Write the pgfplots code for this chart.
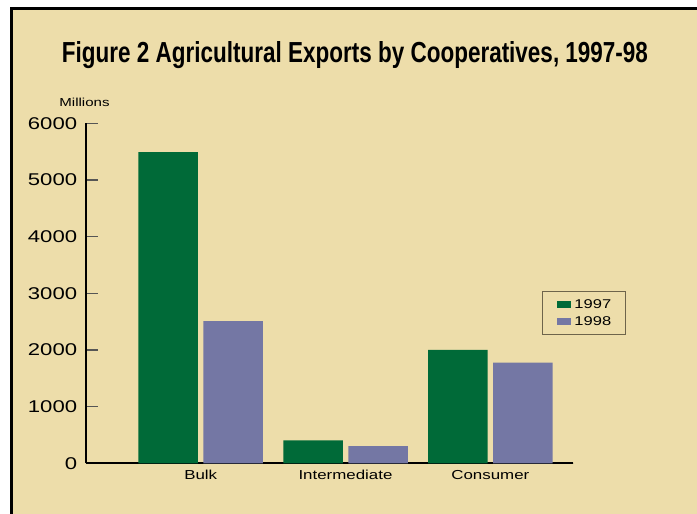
\documentclass[border=0pt]{standalone}
\usepackage{fontspec}
\setmainfont{Liberation Sans}
\newfontfamily\widefont[FakeStretch=1.3]{Liberation Sans}
\usepackage{graphicx}
\usepackage{pgfplots}
\pgfplotsset{compat=1.18}

\definecolor{paper}{RGB}{237,221,170}
\definecolor{green97}{RGB}{0,106,56}
\definecolor{blue98}{RGB}{116,119,164}
\definecolor{tickgray}{RGB}{85,85,85}
\definecolor{legframe}{RGB}{110,100,75}

\pgfplotsset{
  patch/.style={legend image code/.code={\fill[##1] (0bp,-3.5bp) rectangle (14.4bp,3.5bp);}},
}

\begin{document}
\begin{tikzpicture}[x=1bp,y=1bp]
\path[use as bounding box] (0,0) rectangle (697,514);
\fill[white] (0,0) rectangle (697,514);
\draw[line width=3bp, fill=paper] (11.5,-10) rectangle (710,505.5);

% title and unit label
\node[anchor=base, inner sep=0pt] at (355,451.3)
  {\resizebox{586bp}{21bp}{\bfseries Figure 2 Agricultural Exports by Cooperatives, 1997-98}};
\node[anchor=base, inner sep=0pt, font=\widefont\fontsize{11.6bp}{14bp}\selectfont] at (84.5,407.3) {Millions};

\begin{axis}[
  at={(86bp,50.7bp)}, anchor=south west,
  scale only axis, width=487bp, height=340bp,
  xmin=-0.792, xmax=2.571, ymin=0, ymax=6000,
  separate axis lines,
  axis x line*=bottom, axis y line*=left,
  axis line style={line width=2bp, black},
  ybar, bar width=59.5bp,
  xtick={0,1,2}, xticklabels={Bulk,Intermediate,Consumer},
  x tick style={draw=none},
  ytick={0,1000,...,6000},
  y tick style={line width=1.5bp, tickgray},
  tick align=inside, major tick length=12bp,
  scaled y ticks=false,
  /pgf/number format/1000 sep={},
  /pgf/number format/assume math mode=true,
  yticklabel style={font=\widefont\fontsize{17bp}{20bp}\selectfont, inner sep=0pt, xshift=-8.7bp},
  xticklabel style={font=\widefont\fontsize{13bp}{16bp}\selectfont, inner sep=0pt, yshift=-6.5bp},
  legend style={at={(0.9363,0.5076)}, anchor=north west,
    draw=legframe, line width=1bp, fill=none,
    font=\widefont\fontsize{12.7bp}{15bp}\selectfont,
    inner xsep=14.3bp, inner ysep=8bp, row sep=6.9bp,
    nodes={inner sep=0pt},
    /tikz/every odd column/.append style={column sep=3.3bp}},
  legend cell align=left,
]
\addplot[fill=green97, draw=none, bar shift=-32.5bp, patch] coordinates {(0,5490) (1,405) (2,2000)};
\addplot[fill=blue98, draw=none, bar shift=32.5bp, patch] coordinates {(0,2510) (1,305) (2,1775)};
\legend{1997,1998}
\draw[line width=1.5bp] (rel axis cs:1,0) -- ++(0,8bp);
\end{axis}
\end{tikzpicture}
\end{document}
